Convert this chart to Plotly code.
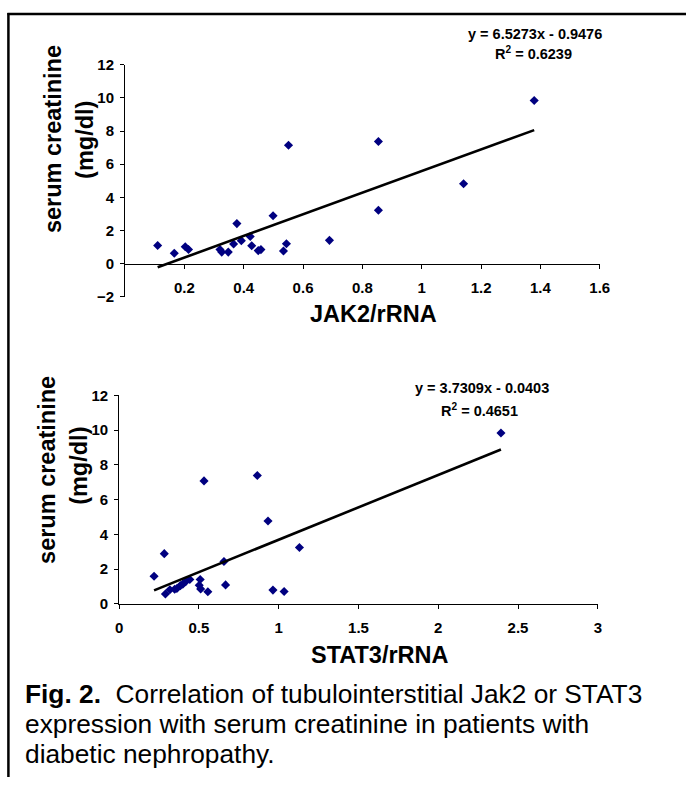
import plotly.graph_objects as go

W, H = 696, 785
FONT = "Liberation Sans, Arial, sans-serif"

# ---- data ----
jak2_x = [0.110, 0.166, 0.203, 0.214, 0.320, 0.326, 0.348, 0.366, 0.377, 0.392, 0.422, 0.427,
          0.449, 0.458, 0.499, 0.534, 0.544, 0.551, 0.689, 0.854, 0.854, 1.141, 1.379]
jak2_y = [1.09, 0.62, 1.01, 0.85, 0.85, 0.69, 0.69, 1.18, 2.41, 1.38, 1.63, 1.07,
          0.78, 0.84, 2.88, 0.76, 1.19, 7.14, 1.40, 7.37, 3.22, 4.82, 9.84]
jak2_slope, jak2_icpt = 6.5273, -0.9476
jak2_eq = "y = 6.5273x - 0.9476"
jak2_r2 = "R<sup>2</sup> = 0.6239"

stat3_x = [0.219, 0.283, 0.290, 0.318, 0.348, 0.362, 0.384, 0.399, 0.417, 0.443, 0.508, 0.502,
           0.511, 0.532, 0.556, 0.657, 0.667, 0.866, 0.933, 0.964, 1.034, 1.130, 2.393]
stat3_y = [1.59, 2.89, 0.57, 0.81, 0.84, 0.88, 1.05, 1.13, 1.28, 1.40, 1.40, 1.07,
           0.86, 7.08, 0.70, 2.44, 1.09, 7.39, 4.77, 0.79, 0.71, 3.24, 9.84]
stat3_slope, stat3_icpt = 3.7309, -0.0403
stat3_eq = "y = 3.7309x - 0.0403"
stat3_r2 = "R<sup>2</sup> = 0.4651"

top_xticks = [0.2, 0.4, 0.6, 0.8, 1.0, 1.2, 1.4, 1.6]
top_xticktext = ["0.2", "0.4", "0.6", "0.8", "1", "1.2", "1.4", "1.6"]
top_yticks = [-2, 0, 2, 4, 6, 8, 10, 12]
bot_xticks = [0, 0.5, 1.0, 1.5, 2.0, 2.5, 3.0]
bot_xticktext = ["0", "0.5", "1", "1.5", "2", "2.5", "3"]
bot_yticks = [0, 2, 4, 6, 8, 10, 12]

y_title = "serum creatinine"
y_unit = "(mg/dl)"
top_xtitle = "JAK2/rRNA"
bot_xtitle = "STAT3/rRNA"
caption_lines = ["<b>Fig. 2.</b>\u00a0 Correlation of tubulointerstitial Jak2 or STAT3",
                 "expression with serum creatinine in patients with",
                 "diabetic nephropathy."]


def px(x):
    return x / W


def py(y):
    return 1 - y / H


MARKER = dict(symbol="diamond", size=7, color="#000080", line=dict(width=0))
LINE = dict(color="black", width=2.6)

fig = go.Figure()

# top plot
fig.add_trace(go.Scatter(x=jak2_x, y=jak2_y, mode="markers", marker=MARKER,
                         xaxis="x", yaxis="y", showlegend=False))
tx = [min(jak2_x), max(jak2_x)]
fig.add_trace(go.Scatter(x=tx, y=[jak2_slope * v + jak2_icpt for v in tx], mode="lines",
                         line=LINE, xaxis="x", yaxis="y", showlegend=False))
# bottom plot
fig.add_trace(go.Scatter(x=stat3_x, y=stat3_y, mode="markers", marker=MARKER,
                         xaxis="x2", yaxis="y2", showlegend=False))
bx = [min(stat3_x), max(stat3_x)]
fig.add_trace(go.Scatter(x=bx, y=[stat3_slope * v + stat3_icpt for v in bx], mode="lines",
                         line=LINE, xaxis="x2", yaxis="y2", showlegend=False))

tickfont = dict(family=FONT, size=15, color="black", weight="bold")
common = dict(showgrid=False, zeroline=False, showline=True, linecolor="black", linewidth=1,
              ticks="outside", ticklen=4, tickwidth=1, tickcolor="black", tickfont=tickfont)

top_y0, top_y1 = 294, 57  # pixel rows for -2 and 12
zero_row = top_y0 - 2 * (top_y0 - top_y1) / 14

fig.update_layout(
    width=W, height=H, margin=dict(l=0, r=0, t=0, b=0),
    paper_bgcolor="white", plot_bgcolor="white", hovermode=False,
    xaxis=dict(domain=[px(123.5), px(608)], range=[0, 1.6], anchor="free",
               position=py(zero_row), tickvals=top_xticks, ticktext=top_xticktext,
               ticklabelstandoff=6, **common),
    yaxis=dict(domain=[py(top_y0), py(top_y1)], range=[-2, 12], anchor="x",
               tickvals=top_yticks, ticklabelstandoff=3, **common),
    xaxis2=dict(domain=[px(117.5), px(606)], range=[0, 3], anchor="y2",
                tickvals=bot_xticks, ticktext=bot_xticktext, ticklabelstandoff=6, **common),
    yaxis2=dict(domain=[py(608), py(395)], range=[0, 12], anchor="x2",
                tickvals=bot_yticks, ticklabelstandoff=3, **common),
)

ann = []


def add_text(text, x, y, size, bold=True, angle=0, xanchor="center", yanchor="middle", align="center"):
    ann.append(dict(text=text, x=px(x), y=py(y), xref="paper", yref="paper", showarrow=False,
                    xanchor=xanchor, yanchor=yanchor, align=align, textangle=angle,
                    font=dict(family=FONT, size=size, color="black",
                              weight="bold" if bold else "normal")))


add_text(jak2_eq, 542, 26, 14.5)
add_text(jak2_r2, 540, 45, 14.5)
add_text(stat3_eq, 488, 387, 14.5)
add_text(stat3_r2, 485, 410, 14.5)

add_text(top_xtitle, 377, 312, 23.5)
add_text(bot_xtitle, 384, 660, 23.5)

add_text(y_title, 50, 133, 23.5, angle=-90)
add_text(y_unit, 82.5, 134, 23.5, angle=-90)
add_text(y_title, 44, 471, 23.5, angle=-90)
add_text(y_unit, 76.5, 467, 23.5, angle=-90)

for i, line in enumerate(caption_lines):
    add_text(line, 19, 700 + 31 * i, 26.3, bold=False, xanchor="left", align="left")

fig.update_layout(annotations=ann)

fig.update_layout(shapes=[
    dict(type="line", xref="paper", yref="paper", x0=px(3.5), x1=px(696), y0=py(5), y1=py(5),
         line=dict(color="black", width=2.5)),
    dict(type="line", xref="paper", yref="paper", x0=px(4.5), x1=px(4.5), y0=py(4), y1=py(785),
         line=dict(color="black", width=2.5)),
])

fig.write_html("out.html", config={"displayModeBar": False, "staticPlot": True},
               post_script="document.body.style.margin='0';document.body.style.overflow='hidden';")
